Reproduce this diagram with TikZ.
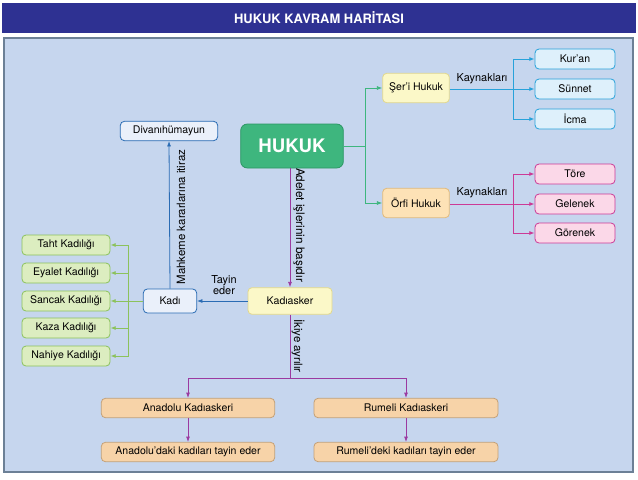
\documentclass[tikz,border=0pt]{standalone}
\usepackage{fontspec}
\setmainfont{TeX Gyre Heros}
\usepackage{tikz}
\usetikzlibrary{arrows.meta,positioning,calc}
\definecolor{titleblue}{RGB}{46,49,146}
\definecolor{panelfill}{RGB}{198,214,238}
\definecolor{panelline}{RGB}{108,128,150}
\definecolor{hukukgreen}{RGB}{62,182,126}
\definecolor{hukukedge}{RGB}{44,150,100}
\definecolor{paleblue}{RGB}{234,240,250}
\definecolor{midblue}{RGB}{42,108,180}
\definecolor{softyellow}{RGB}{251,248,200}
\definecolor{edgeyellow}{RGB}{226,216,140}
\definecolor{softorange}{RGB}{253,226,182}
\definecolor{edgeorange}{RGB}{226,186,122}
\definecolor{softcyan}{RGB}{222,240,251}
\definecolor{deepcyan}{RGB}{40,162,218}
\definecolor{softpink}{RGB}{251,216,232}
\definecolor{deeppink}{RGB}{204,58,150}
\definecolor{softlime}{RGB}{220,237,192}
\definecolor{deeplime}{RGB}{140,194,92}
\definecolor{softtan}{RGB}{247,211,168}
\definecolor{edgetan}{RGB}{196,160,118}
\definecolor{deeppurple}{RGB}{155,58,160}
\tikzset{
  kbox/.style={draw,rounded corners=3pt,line width=0.6pt,align=center,inner sep=1pt,
    font=\fontsize{7.9}{8.5}\selectfont,minimum width=60pt,minimum height=15pt},
  kboxblue/.style={kbox,draw=midblue,fill=paleblue},
  kboxyellow/.style={kbox,draw=edgeyellow,fill=softyellow},
  kboxorange/.style={kbox,draw=edgeorange,fill=softorange},
  kboxcyan/.style={kbox,draw=deepcyan,fill=softcyan},
  kboxpink/.style={kbox,draw=deeppink,fill=softpink},
  kboxlime/.style={kbox,draw=deeplime,fill=softlime,minimum width=66pt},
  kboxtan/.style={kbox,draw=edgetan,fill=softtan,minimum height=14.5pt},
  flow/.style={-{Latex[length=4pt,width=3pt]},line width=0.6pt},
  bare/.style={line width=0.6pt},
  edgelabel/.style={font=\fontsize{8.2}{8}\selectfont,inner sep=0pt,align=center}
}
\begin{document}
\begin{tikzpicture}[x=0.75pt,y=-0.75pt]
  \useasboundingbox (0,0) rectangle (638,479);
  % frame and title band
  \fill[titleblue] (2,3) rectangle (636,33);
  \node[text=white,font=\fontsize{9.7}{10}\selectfont\bfseries] (title) at (319,18) {HUKUK KAVRAM HARİTASI};
  \draw[panelline,line width=2pt,fill=panelfill] (4,38) rectangle (633,472);

  % main node
  \node[kbox,draw=hukukedge,fill=hukukgreen,text=white,rounded corners=5pt,
    font=\fontsize{14}{14}\selectfont\bfseries,minimum width=77pt,minimum height=33pt] (hukuk) at (292,146) {HUKUK};

  % right branch
  \node[kboxyellow,minimum width=50pt,minimum height=22pt] (seri) at (416,88) {Şer'i Hukuk};
  \node[kboxorange,minimum width=50pt,minimum height=22pt] (orfi) at (416,203) {Örfi Hukuk};
  \node[kboxcyan] (kuran) at (575,59) {Kur'an};
  \node[kboxcyan] (sunnet) at (575,89) {Sünnet};
  \node[kboxcyan] (icma) at (575,119) {İcma};
  \node[kboxpink] (tore) at (575,174) {Töre};
  \node[kboxpink] (gelenek) at (575,204) {Gelenek};
  \node[kboxpink] (gorenek) at (575,233) {Görenek};
  \node[edgelabel] (kaynakS) at (482,79) {Kaynakları};
  \node[edgelabel] (kaynakO) at (482,193) {Kaynakları};

  \coordinate (busH) at (365,146);
  \draw[bare,hukukgreen] (hukuk.east) -- (busH);
  \draw[flow,hukukgreen] (busH) |- (seri.west);
  \draw[flow,hukukgreen] (busH) |- (orfi.west);

  \coordinate (busS) at (513,89);
  \draw[flow,deepcyan] (seri.east |- sunnet) -- (sunnet.west);
  \draw[flow,deepcyan] (busS) |- (kuran.west);
  \draw[flow,deepcyan] (busS) |- (icma.west);

  \coordinate (busO) at (513,204);
  \draw[flow,deeppink] (orfi.east |- gelenek) -- (gelenek.west);
  \draw[flow,deeppink] (busO) |- (tore.west);
  \draw[flow,deeppink] (busO) |- (gorenek.west);

  % left branch
  \node[kboxblue,minimum width=73pt,minimum height=14.5pt] (divan) at (169,131) {Divanıhümayun};
  \node[kboxblue,minimum width=40pt,minimum height=18pt] (kadi) at (170,301) {Kadı};
  \node[kboxyellow,minimum width=63pt,minimum height=20pt] (kadiasker) at (290,301) {Kadıasker};

  \draw[flow,deeppurple] (hukuk.south -| kadiasker) -- (kadiasker.north);
  \node[edgelabel,rotate=-90,font=\fontsize{8.8}{8}\selectfont] (adalet) at (299,225) {Adelet işlerinin başıdır};
  \draw[flow,midblue] (kadiasker.west) -- (kadi.east);
  \node[edgelabel,font=\fontsize{8.2}{7.2}\selectfont] (tayin) at (224,285) {Tayin\\eder};
  \draw[flow,midblue] (kadi.north) -- (divan.south);
  \node[edgelabel,rotate=90,font=\fontsize{8.6}{8}\selectfont] (itiraz) at (181,217) {Mahkeme kararlarına itiraz};

  \node[kboxlime] (taht) at (66,245) {Taht Kadılığı};
  \node[kboxlime] (eyalet) at (66,273) {Eyalet Kadılığı};
  \node[kboxlime] (sancak) at (66,301) {Sancak Kadılığı};
  \node[kboxlime] (kaza) at (66,328) {Kaza Kadılığı};
  \node[kboxlime] (nahiye) at (66,356) {Nahiye Kadılığı};

  \coordinate (busK) at (128,301);
  \draw[flow,deeplime] (kadi.west) -- (sancak.east);
  \foreach \k in {taht,eyalet,kaza,nahiye}
    \draw[flow,deeplime] (busK) |- (\k.east);

  % bottom branch
  \node[kboxtan,minimum width=130pt] (anadolu) at (188,408) {Anadolu Kadıaskeri};
  \node[kboxtan,minimum width=138pt] (rumeli) at (406,408) {Rumeli Kadıaskeri};
  \node[kboxtan,minimum width=130pt] (anadoluK) at (188,452) {Anadolu'daki kadıları tayin eder};
  \node[kboxtan,minimum width=138pt] (rumeliK) at (406,452) {Rumeli'deki kadıları tayin eder};

  \coordinate (busA) at (290,378);
  \draw[bare,deeppurple] (kadiasker.south) -- (busA);
  \node[edgelabel,rotate=-90,font=\fontsize{8.6}{8}\selectfont] (ikiye) at (298,346) {İkiye ayrılır};
  \draw[flow,deeppurple] (busA) -| (anadolu.north);
  \draw[flow,deeppurple] (busA) -| (rumeli.north);
  \draw[flow,deeppurple] (anadolu.south) -- (anadoluK.north);
  \draw[flow,deeppurple] (rumeli.south) -- (rumeliK.north);
\end{tikzpicture}
\end{document}
